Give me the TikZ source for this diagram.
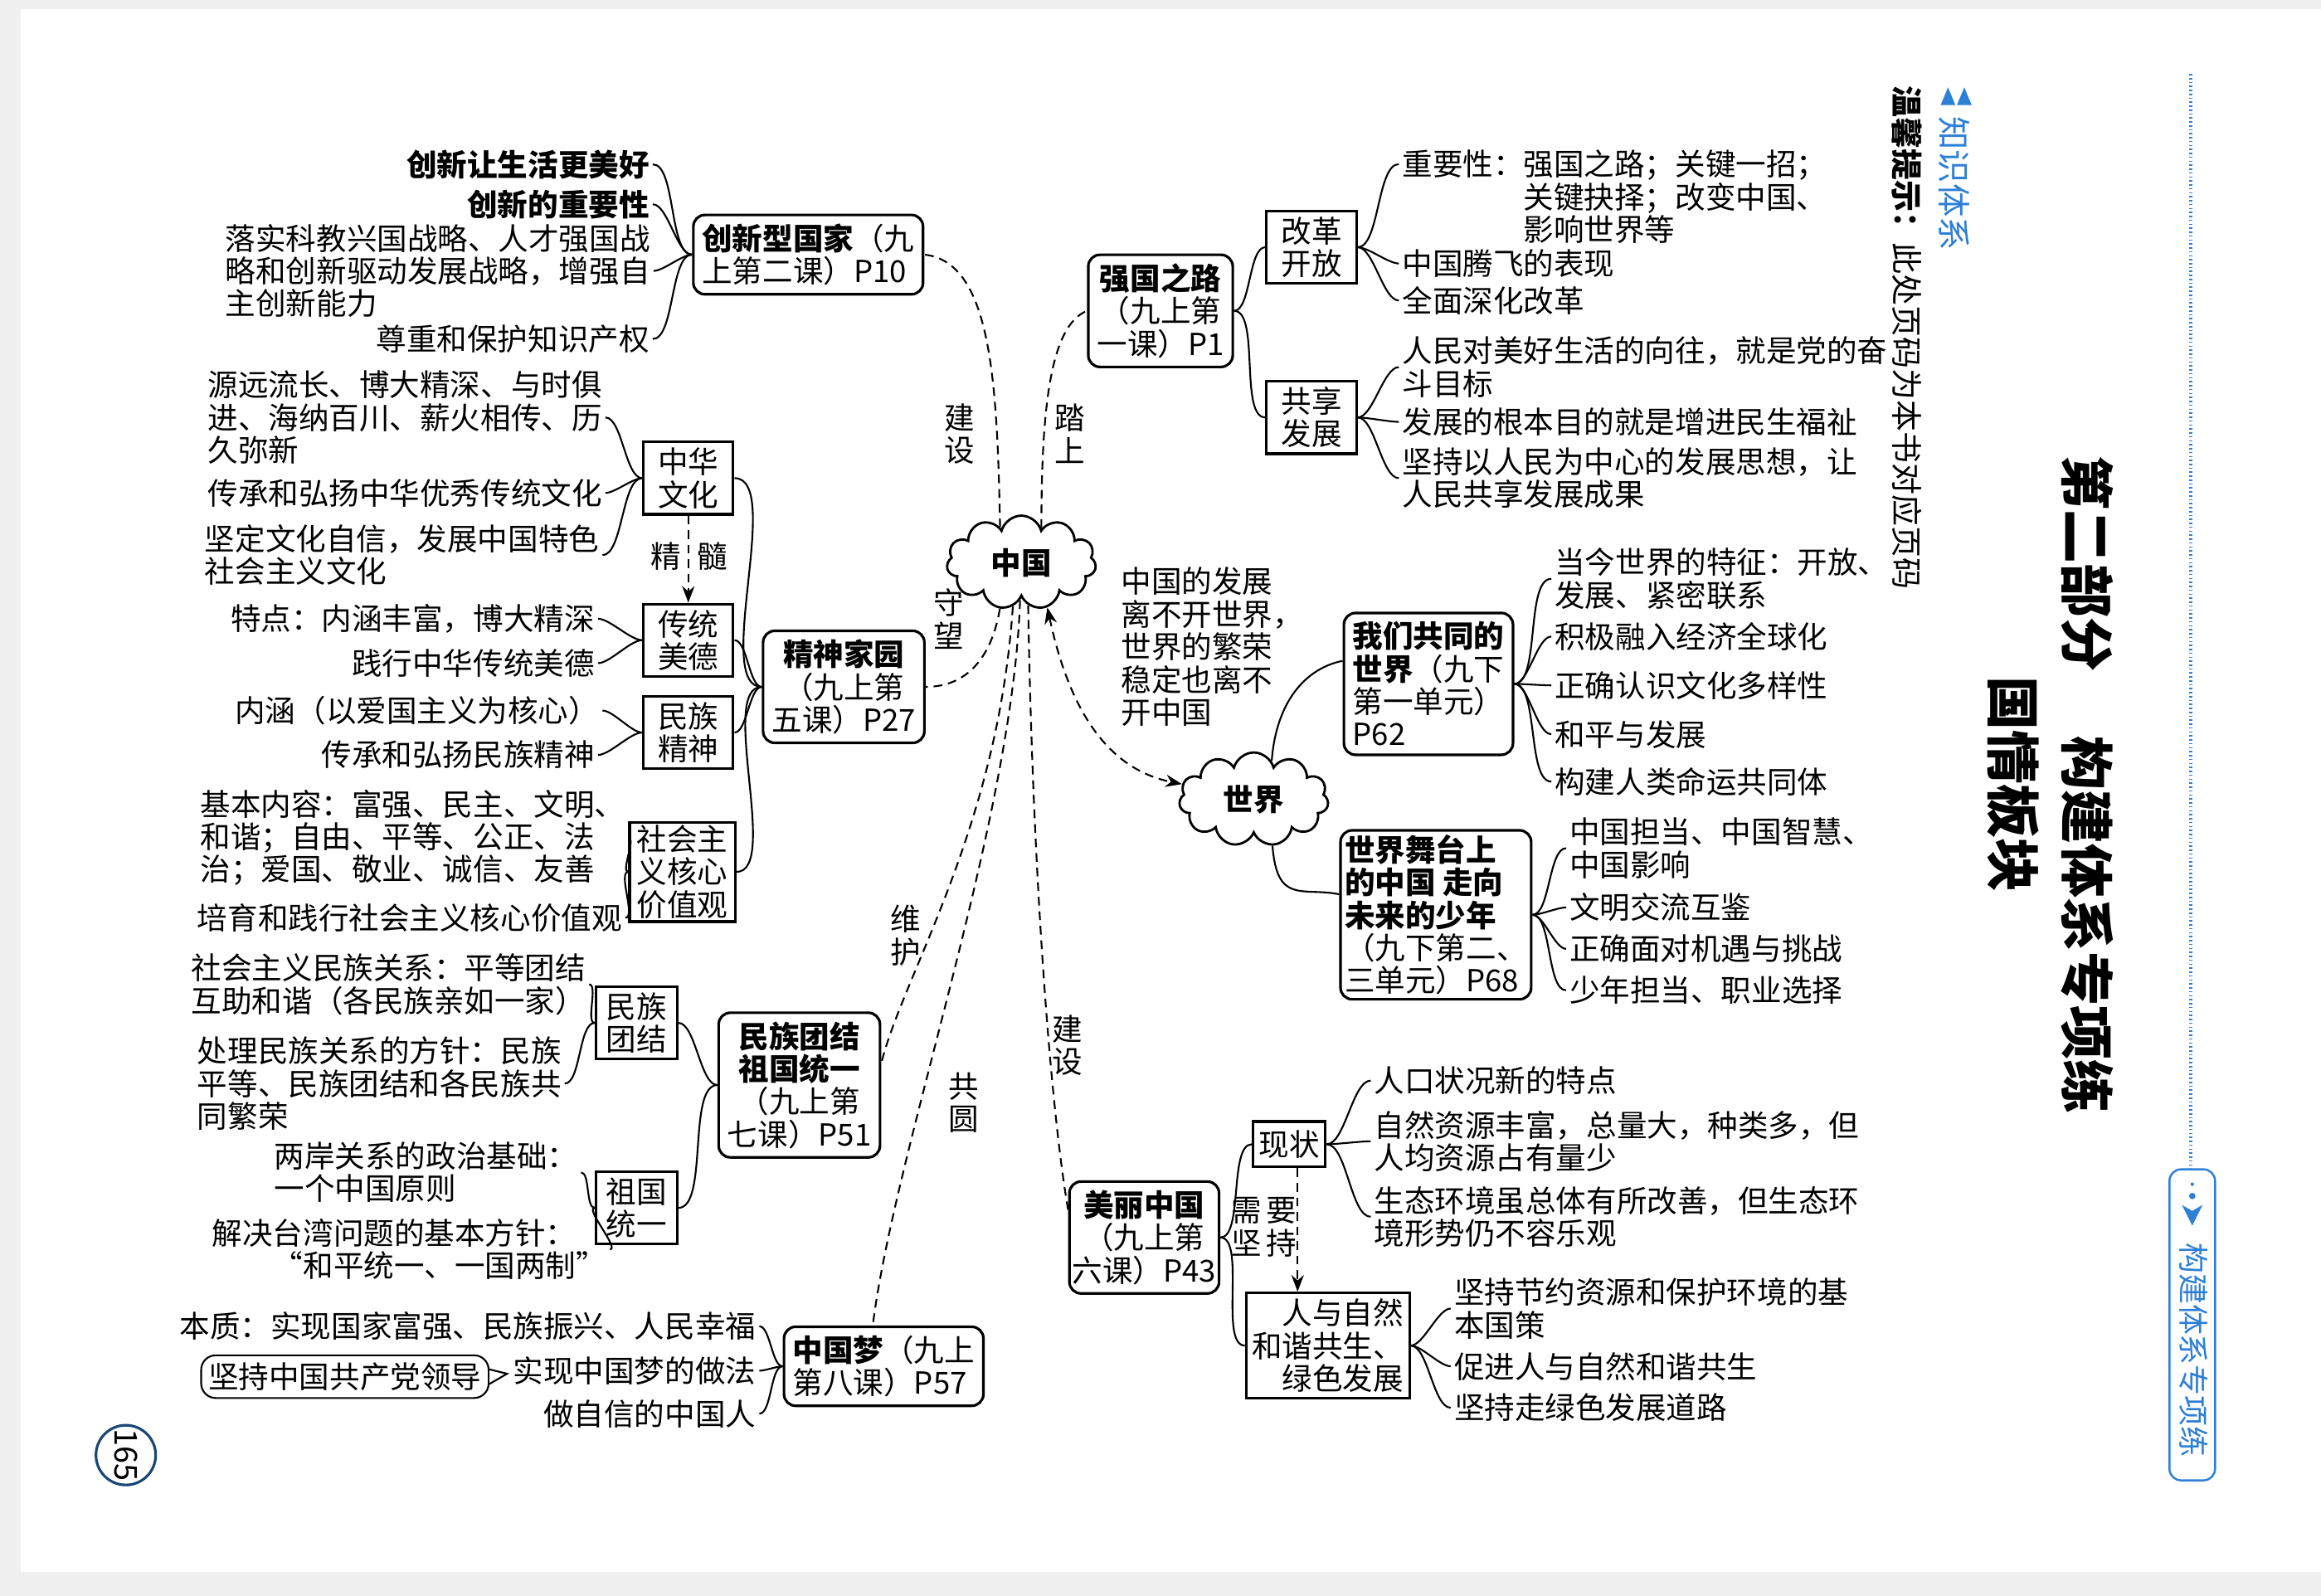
\documentclass[tikz,border=0pt]{standalone}
\usepackage{fontspec}
\setmainfont{Noto Sans CJK SC}
\usetikzlibrary{arrows.meta, positioning, shapes.symbols, calc}
\definecolor{tipBlue}{HTML}{2E7FD6}
\definecolor{pageEdge}{HTML}{F0F0F0}
\newcommand{\bodysize}{\fontsize{10.4}{11.2}\selectfont}
\newcommand{\headsize}{\fontsize{18.5}{20}\selectfont}
\newcommand{\notesize}{\fontsize{10.8}{12}\selectfont}
\tikzset{
  boxMain/.style={rectangle, rounded corners=4pt, draw, line width=0.9pt,
                  align=center, inner sep=3pt, font=\bodysize},
  boxSub/.style={rectangle, draw, line width=0.9pt, align=center,
                 inner xsep=5pt, inner ysep=2pt, font=\bodysize},
  leafW/.style={anchor=west, align=left, inner sep=1pt, font=\bodysize},
  leafE/.style={anchor=east, align=left, inner sep=1pt, font=\bodysize},
  tagV/.style={align=center, inner sep=0pt, font=\bodysize},
  cloudC/.style={cloud, cloud puffs=11, cloud ignores aspect, draw, line width=0.8pt,
                 minimum width=18mm, minimum height=11.3mm, inner sep=0pt,
                 font=\bodysize\bfseries},
  linkS/.style={line width=0.6pt},
  linkD/.style={line width=0.6pt, dash pattern=on 3pt off 2pt},
  arrowD/.style={linkD, -{Stealth[length=2mm, width=1.5mm]}},
  arrowDD/.style={linkD, {Stealth[length=2mm, width=1.5mm]}-{Stealth[length=2mm, width=1.5mm]}},
  fanL/.style={out=180, in=0, looseness=0.6},
  fanR/.style={out=0, in=180, looseness=0.6},
}

\begin{document}
\begin{tikzpicture}[x=0.17844mm, y=-0.17844mm]
  \useasboundingbox (0,0) rectangle (1568,1078);
  \fill[pageEdge] (0,0) rectangle (1568,1078);
  \fill[white] (14,6) rectangle (1568,1062);

  \node[cloudC] (china) at (690,380) {中国};
  \node[cloudC] (world) at (847,540) {世界};

  \node[boxMain, align=left] (innov) at (546,172) {\textbf{创新型国家}（九\\上第二课）P10};
  \node[boxMain] (road) at (784,210) {\textbf{强国之路}\\（九上第\\一课）P1};
  \node[boxMain] (home) at (570,464) {\textbf{精神家园}\\（九上第\\五课）P27};
  \node[boxMain] (unity) at (540,733) {\textbf{民族团结}\\\textbf{祖国统一}\\（九上第\\七课）P51};
  \node[boxMain, align=left] (dream) at (597,923) {\textbf{中国梦}（九上\\第八课）P57};
  \node[boxMain, inner xsep=1pt] (beauty) at (773,836) {\textbf{美丽中国}\\（九上第\\六课）P43};
  \node[boxMain, align=left] (ourw) at (965,462) {\textbf{我们共同的}\\\textbf{世界}（九下\\第一单元）\\P62};
  \node[boxMain, align=left, inner sep=1.5pt] (stage) at (970,618) {\textbf{世界舞台上}\\\textbf{的中国\ 走向}\\\textbf{未来的少年}\\（九下第二、\\三单元）P68};

  \node[boxSub] (reform) at (886,167) {改革\\开放};
  \node[boxSub] (share) at (886,282) {共享\\发展};
  \node[boxSub] (culture) at (465,323) {中华\\文化};
  \node[boxSub, below=10.5mm of culture] (virtue) {传统\\美德};
  \node[boxSub, below=2.1mm of virtue] (spirit) {民族\\精神};
  \node[boxSub, inner xsep=2.5pt, inner ysep=1pt] (values) at (461,589) {社会主\\义核心\\价值观};
  \node[boxSub, inner xsep=3.5pt] (ethnic) at (430,691) {民族\\团结};
  \node[boxSub, inner xsep=3.5pt] (reunify) at (430,816) {祖国\\统一};
  \node[boxSub, inner xsep=2pt, inner ysep=3pt] (status) at (871,773) {现状};
  \node[boxSub, align=right, inner xsep=2pt] (harmony) at (897,909) {人与自然\\和谐共生、\\绿色发展};

  \node[leafE, font=\bodysize\bfseries] (i1) at (441,111) {创新让生活更美好};
  \node[leafE, font=\bodysize\bfseries] (i2) at (441,138) {创新的重要性};
  \node[leafW] (i3) at (150,183) {落实科教兴国战略、人才强国战\\略和创新驱动发展战略，增强自\\主创新能力};
  \node[leafE] (i4) at (441,229) {尊重和保护知识产权};

  \node[leafW] (c1) at (138,282) {源远流长、博大精深、与时俱\\进、海纳百川、薪火相传、历\\久弥新};
  \node[leafW] (c2) at (138,333) {传承和弘扬中华优秀传统文化};
  \node[leafW] (c3) at (136,375) {坚定文化自信，发展中国特色\\社会主义文化};
  \node[leafE] (v1) at (404,418) {特点：内涵丰富，博大精深};
  \node[leafE] (v2) at (404,448) {践行中华传统美德};
  \node[leafE] (p1) at (407,480) {内涵（以爱国主义为核心）};
  \node[leafE] (p2) at (404,510) {传承和弘扬民族精神};
  \node[leafW] (k1) at (133,566) {基本内容：富强、民主、文明、\\和谐；自由、平等、公正、法\\治；爱国、敬业、诚信、友善};
  \node[leafW] (k2) at (131,620) {培育和践行社会主义核心价值观};

  \node[leafW] (m1) at (127,665) {社会主义民族关系：平等团结\\互助和谐（各民族亲如一家）};
  \node[leafW] (m2) at (131,732) {处理民族关系的方针：民族\\平等、民族团结和各民族共\\同繁荣};
  \node[leafW] (t1) at (183,792) {两岸关系的政治基础：\\一个中国原则};
  \node[leafW] (t2) at (141,844) {解决台湾问题的基本方针：\\\hspace*{2em}“和平统一、一国两制”};

  \node[leafE] (d1) at (513,896) {本质：实现国家富强、民族振兴、人民幸福};
  \node[leafE] (d2) at (513,926) {实现中国梦的做法};
  \node[leafE] (d3) at (513,955) {做自信的中国人};
  \node[draw, rounded corners=5pt, line width=0.6pt, inner sep=2.5pt, font=\bodysize] (party) at (233,930) {坚持中国共产党领导};
  \filldraw[fill=white, line width=0.6pt] ([yshift=2.5pt]party.east) -- ([xshift=6pt,yshift=1pt]party.east) -- ([yshift=-2.5pt]party.east);

  \node[leafW] (r1a) at (945,133) {重要性：强国之路；关键一招；\\\hspace*{4em}关键抉择；改变中国、\\\hspace*{4em}影响世界等};
  \node[leafW] (r1b) at (945,178) {中国腾飞的表现};
  \node[leafW] (r1c) at (945,203) {全面深化改革};
  \node[leafW] (r2a) at (945,248) {人民对美好生活的向往，就是党的奋\\斗目标};
  \node[leafW] (r2b) at (945,285) {发展的根本目的就是增进民生福祉};
  \node[leafW] (r2c) at (945,323) {坚持以人民为中心的发展思想，让\\人民共享发展成果};

  \node[leafW] (w1a) at (1048,391) {当今世界的特征：开放、\\发展、紧密联系};
  \node[leafW] (w1b) at (1048,430) {积极融入经济全球化};
  \node[leafW] (w1c) at (1048,463) {正确认识文化多样性};
  \node[leafW] (w1d) at (1048,496) {和平与发展};
  \node[leafW] (w1e) at (1048,528) {构建人类命运共同体};
  \node[leafW] (w2a) at (1058,573) {中国担当、中国智慧、\\中国影响};
  \node[leafW] (w2b) at (1058,613) {文明交流互鉴};
  \node[leafW] (w2c) at (1058,641) {正确面对机遇与挑战};
  \node[leafW] (w2d) at (1058,669) {少年担当、职业选择};

  \node[leafW] (e1a) at (926,730) {人口状况新的特点};
  \node[leafW] (e1b) at (926,771) {自然资源丰富，总量大，种类多，但\\人均资源占有量少};
  \node[leafW] (e1c) at (926,822) {生态环境虽总体有所改善，但生态环\\境形势仍不容乐观};
  \node[leafW] (e2a) at (980,884) {坚持节约资源和保护环境的基\\本国策};
  \node[leafW] (e2b) at (980,923) {促进人与自然和谐共生};
  \node[leafW] (e2c) at (980,951) {坚持走绿色发展道路};

  \node[leafW] (note) at (755,437) {中国的发展\\离不开世界，\\世界的繁荣\\稳定也离不\\开中国};
  \node[tagV] (tagBuild) at (648,293) {建\\设};
  \node[tagV] (tagOnto) at (723,293) {踏\\上};
  \node[tagV] (tagWatch) at (641,418) {守\\望};
  \node[tagV] (tagGuard) at (612,632) {维\\护};
  \node[tagV] (tagDream) at (651,745) {共\\圆};
  \node[tagV] (tagMake) at (721,706) {建\\设};
  \node[tagV] (tagJing) at (450,376) {精};
  \node[tagV] (tagSui) at (481,376) {髓};
  \node[tagV] (tagNeed) at (854,829) {需\,要\\坚\,持};

  \draw[linkS] (innov.west) to[fanL] (i1.east); \draw[linkS] (innov.west) to[fanL] (i2.east);
  \draw[linkS] (innov.west) to[fanL] (i3.east); \draw[linkS] (innov.west) to[fanL] (i4.east);
  \draw[linkS] (road.east) to[fanR] (reform.west); \draw[linkS] (road.east) to[fanR] (share.west);
  \draw[linkS] (reform.east) to[fanR] ([yshift=-6pt]r1a.north west);
  \draw[linkS] (reform.east) to[fanR] (r1b.west); \draw[linkS] (reform.east) to[fanR] (r1c.west);
  \draw[linkS] (share.east) to[fanR] (r2a.west); \draw[linkS] (share.east) to[fanR] (r2b.west);
  \draw[linkS] (share.east) to[fanR] (r2c.west);
  \draw[linkS] (ourw.east) to[fanR] (w1a.west); \draw[linkS] (ourw.east) to[fanR] (w1b.west);
  \draw[linkS] (ourw.east) to[fanR] (w1c.west); \draw[linkS] (ourw.east) to[fanR] (w1d.west);
  \draw[linkS] (ourw.east) to[fanR] (w1e.west);
  \draw[linkS] (stage.east) to[fanR] (w2a.west); \draw[linkS] (stage.east) to[fanR] (w2b.west);
  \draw[linkS] (stage.east) to[fanR] (w2c.west); \draw[linkS] (stage.east) to[fanR] (w2d.west);
  \draw[linkS] (beauty.east) to[fanR] (status.west); \draw[linkS] (beauty.east) to[fanR] (harmony.west);
  \draw[linkS] (status.east) to[fanR] (e1a.west); \draw[linkS] (status.east) to[fanR] (e1b.west);
  \draw[linkS] (status.east) to[fanR] (e1c.west);
  \draw[linkS] (harmony.east) to[fanR] (e2a.west); \draw[linkS] (harmony.east) to[fanR] (e2b.west);
  \draw[linkS] (harmony.east) to[fanR] (e2c.west);
  \draw[linkS] (home.west) to[fanL] (culture.east); \draw[linkS] (home.west) to[fanL] (virtue.east);
  \draw[linkS] (home.west) to[fanL] (spirit.east); \draw[linkS] (home.west) to[fanL] (values.east);
  \draw[linkS] (culture.west) to[fanL] (c1.east); \draw[linkS] (culture.west) to[fanL] (c2.east);
  \draw[linkS] (culture.west) to[fanL] (c3.east);
  \draw[linkS] (virtue.west) to[fanL] (v1.east); \draw[linkS] (virtue.west) to[fanL] (v2.east);
  \draw[linkS] (spirit.west) to[fanL] (p1.east); \draw[linkS] (spirit.west) to[fanL] (p2.east);
  \draw[linkS] (values.west) to[fanL] (k1.east); \draw[linkS] (values.west) to[fanL] (k2.east);
  \draw[linkS] (unity.west) to[fanL] (ethnic.east); \draw[linkS] (unity.west) to[fanL] (reunify.east);
  \draw[linkS] (ethnic.west) to[fanL] (m1.east); \draw[linkS] (ethnic.west) to[fanL] (m2.east);
  \draw[linkS] (reunify.west) to[fanL] (t1.east); \draw[linkS] (reunify.west) to[fanL] (t2.east);
  \draw[linkS] (dream.west) to[fanL] (d1.east); \draw[linkS] (dream.west) to[fanL] (d2.east);
  \draw[linkS] (dream.west) to[fanL] (d3.east);

  \draw[arrowD] (culture.south) -- (virtue.north);
  \draw[arrowD] ([xshift=1mm]status.south) -- ([xshift=1mm]status.south |- harmony.north);

  \draw[linkD] (china.121) .. controls +(-2,-100) and +(45,5) .. (innov.east);
  \draw[linkD] (china.60) .. controls +(0,-80) and +(-25,10) .. (road.west);
  \draw[linkD] (china.245) .. controls +(-5,30) and +(30,0) .. (home.east);
  \draw[linkD] (china.259) .. controls +(-10,150) and +(15,-60) .. (unity.15);
  \draw[linkD] (china.268) .. controls +(-5,150) and +(15,-120) .. (dream.105);
  \draw[linkD] (china.279) .. controls +(3,180) and +(-12,-70) .. (beauty.160);
  \draw[arrowDD] (china.300) .. controls +(15,70) and +(-50,-10) .. (world.168);
  \draw[linkS] (world.65) .. controls +(3,-40) and +(-25,5) .. (ourw.165);
  \draw[linkS] (world.292) .. controls +(3,40) and +(-25,-5) .. (stage.168);

  \node[circle, draw=tipBlue!55!black, line width=0.9pt, minimum size=7.2mm, inner sep=0pt,
        rotate=-90, font=\notesize] (pageNo) at (85,983) {165};

  \node[rotate=-90, inner sep=0pt, font=\headsize\bfseries] (title) at (1410,530) {第二部分\hspace{1.2em}构建体系专项练};
  \node[rotate=-90, inner sep=0pt, font=\headsize\bfseries] (block) at (1360,530) {国情板块};
  \node[rotate=-90, inner sep=0pt, text=tipBlue, font=\fontsize{11.5}{12}\selectfont] (sysTag) at (1320,124) {知识体系};
  \fill[tipBlue] (1311,71) -- (1316,59) -- (1321,71) -- cycle;
  \fill[tipBlue] (1322,71) -- (1327,59) -- (1332,71) -- cycle;
  \node[rotate=-90, inner sep=0pt, font=\notesize] (hint) at (1288,228) {\textbf{温馨提示：}此处页码为本书对应页码};

  \node[draw=tipBlue, rounded corners=4pt, line width=0.7pt, minimum width=5.5mm,
        minimum height=37.5mm] (tab) at (1481,895) {};
  \node[rotate=-90, inner sep=0pt, text=tipBlue, font=\fontsize{10.5}{11}\selectfont] (tabText) at (1482,912) {构建体系专项练};
  \fill[tipBlue] (1481,800) circle (0.6pt);
  \fill[tipBlue] (1481,808) circle (1.1pt);
  \fill[tipBlue] (1474,814) -- (1481,818) -- (1488,814) -- (1481,828) -- cycle;
  \coordinate (dotTop) at (1480,50);
  \draw[tipBlue, line width=1.4pt, dash pattern=on 0.45pt off 0.9pt] (dotTop) -- (tab.north -| dotTop);
\end{tikzpicture}
\end{document}
